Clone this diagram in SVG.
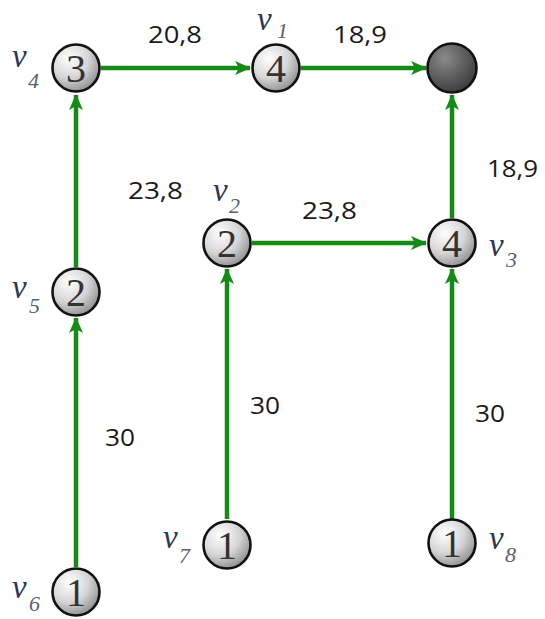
<svg xmlns="http://www.w3.org/2000/svg" width="545" height="619" viewBox="0 0 545 619">
<style>
.node{stroke:#111;stroke-width:2.6;fill:url(#g)}
.root{stroke:#111;stroke-width:2.6;fill:url(#gd)}
.num{font-family:"Liberation Serif","Times New Roman",serif;font-size:40px;fill:#333;text-anchor:middle}
.v{font-family:"Liberation Serif","Times New Roman",serif;font-style:italic;font-size:33px;fill:#2c3552}
.sub{font-family:"Liberation Serif","Times New Roman",serif;font-style:italic;font-size:22px;fill:#5a5f6e}
.lbl{font-family:"Open Sans","Liberation Sans",sans-serif;font-size:23px;fill:#1a1a1a}
.edge{stroke:#158a15;stroke-width:4.5;fill:none;marker-end:url(#arr)}
</style>
<defs>
<radialGradient id="g" cx="0.35" cy="0.3" r="0.75">
<stop offset="0" stop-color="#ffffff"/>
<stop offset="0.55" stop-color="#d6d6d6"/>
<stop offset="1" stop-color="#8e8e8e"/>
</radialGradient>
<radialGradient id="gd" cx="0.35" cy="0.3" r="0.75">
<stop offset="0" stop-color="#8a8a8a"/>
<stop offset="1" stop-color="#3a3a3a"/>
</radialGradient>
<marker id="arr" viewBox="0 0 16 14" refX="15" refY="7" markerWidth="16" markerHeight="14" markerUnits="userSpaceOnUse" orient="auto">
<path d="M0,0 L16,7 L0,14 L4,7 Z" fill="#158a15"/>
</marker>
</defs>
<g id="connectors">
<line class="edge" x1="101" y1="68" x2="250" y2="68"/>
<line class="edge" x1="301" y1="68" x2="426" y2="68"/>
<line class="edge" x1="452" y1="218" x2="452" y2="95"/>
<line class="edge" x1="252" y1="243" x2="426" y2="243"/>
<line class="edge" x1="76" y1="267" x2="76" y2="95"/>
<line class="edge" x1="76" y1="567" x2="76" y2="318"/>
<line class="edge" x1="227" y1="519" x2="227" y2="269"/>
<line class="edge" x1="452" y1="519" x2="452" y2="269"/>
<text class="lbl" x="148" y="43" textLength="54" lengthAdjust="spacingAndGlyphs">20,8</text>
<text class="lbl" x="333" y="43" textLength="54" lengthAdjust="spacingAndGlyphs">18,9</text>
<text class="lbl" x="487" y="177" textLength="51" lengthAdjust="spacingAndGlyphs">18,9</text>
<text class="lbl" x="128" y="199" textLength="55" lengthAdjust="spacingAndGlyphs">23,8</text>
<text class="lbl" x="302" y="219" textLength="55" lengthAdjust="spacingAndGlyphs">23,8</text>
<text class="lbl" x="105" y="446" textLength="30" lengthAdjust="spacingAndGlyphs">30</text>
<text class="lbl" x="250" y="414" textLength="30" lengthAdjust="spacingAndGlyphs">30</text>
<text class="lbl" x="475" y="422" textLength="30" lengthAdjust="spacingAndGlyphs">30</text>
</g>
<g id="v4"><circle class="node" cx="76" cy="68" r="23.5"/><text class="num" x="76" y="82">3</text><text class="v" x="12" y="67">v</text><text class="sub" x="28" y="88">4</text></g>
<g id="v1"><circle class="node" cx="276" cy="68" r="23.5"/><text class="num" x="276" y="82">4</text><text class="v" x="257" y="30">v</text><text class="sub" x="277" y="38">1</text></g>
<g id="root"><circle class="root" cx="452" cy="68" r="24.5"/></g>
<g id="v2"><circle class="node" cx="227" cy="243" r="23.5"/><text class="num" x="227" y="257">2</text><text class="v" x="213" y="201">v</text><text class="sub" x="229" y="213">2</text></g>
<g id="v3"><circle class="node" cx="452" cy="243" r="23.5"/><text class="num" x="452" y="257">4</text><text class="v" x="489" y="256">v</text><text class="sub" x="506" y="267">3</text></g>
<g id="v5"><circle class="node" cx="76" cy="292" r="23.5"/><text class="num" x="76" y="306">2</text><text class="v" x="12" y="298">v</text><text class="sub" x="29" y="313">5</text></g>
<g id="v6"><circle class="node" cx="76" cy="592" r="23.5"/><text class="num" x="76" y="606">1</text><text class="v" x="12" y="598">v</text><text class="sub" x="29" y="611">6</text></g>
<g id="v7"><circle class="node" cx="227" cy="545" r="23.5"/><text class="num" x="227" y="559">1</text><text class="v" x="163" y="548">v</text><text class="sub" x="179" y="563">7</text></g>
<g id="v8"><circle class="node" cx="452" cy="543" r="23.5"/><text class="num" x="452" y="557">1</text><text class="v" x="489" y="549">v</text><text class="sub" x="505" y="562">8</text></g>
</svg>
